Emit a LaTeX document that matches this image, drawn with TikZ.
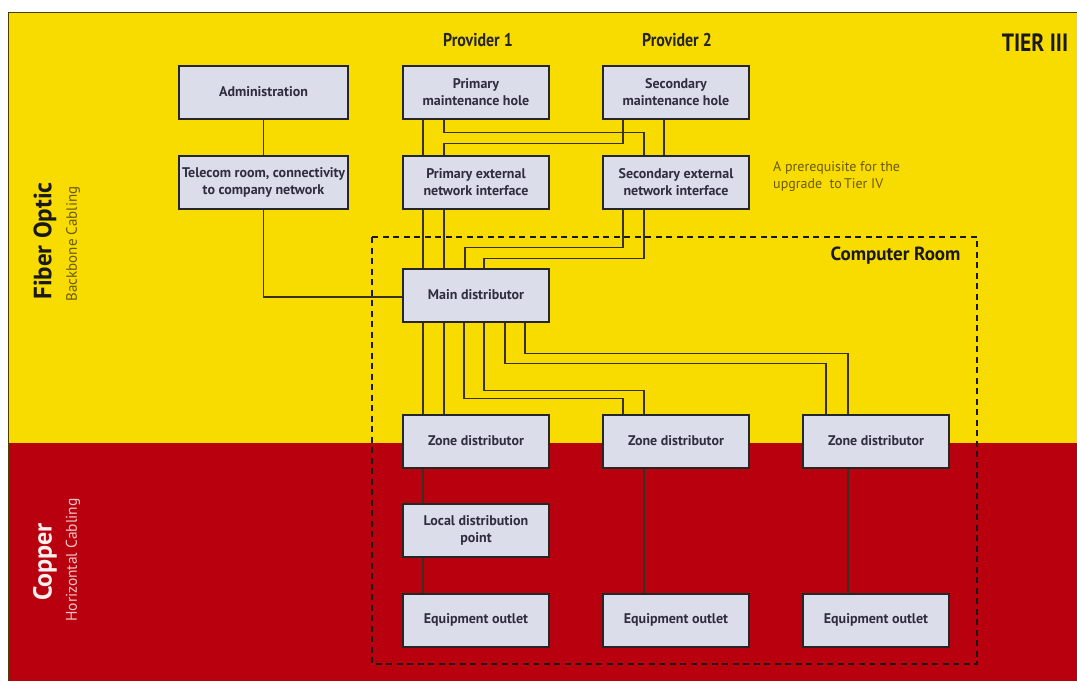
\documentclass[tikz,border=0pt]{standalone}
\usepackage{fontspec}
\setmainfont{PT Sans}
\newfontfamily\condfont[FakeStretch=0.86]{PT Sans}
\usetikzlibrary{calc}
\definecolor{tieryellow}{HTML}{F8DC00}
\definecolor{tierred}{HTML}{B8000E}
\definecolor{boxfill}{HTML}{DCDDEB}
\definecolor{boxtext}{HTML}{2E2E3E}
\definecolor{wire}{HTML}{3A3020}
\definecolor{olive}{HTML}{6A5A08}
\definecolor{pinklabel}{HTML}{F4C6C6}
\tikzset{
  unit/.style={draw=black!85, line width=2pt, fill=boxfill, text=boxtext,
    font=\bfseries\fontsize{14}{17}\selectfont, align=center,
    minimum width=146pt, minimum height=53pt, inner sep=1pt},
  wideunit/.style={unit, minimum width=169pt},
  cable/.style={draw=wire, line width=1.6pt},
  roomline/.style={draw=black!90, line width=2pt, dash pattern=on 6pt off 4.5pt},
}
\begin{document}
\begin{tikzpicture}[x=1pt, y=-1pt]
\useasboundingbox (0,0) rectangle (1077,681);
% backbone and horizontal cabling zones
\fill[white] (0,0) rectangle (1077,681);
\fill[tieryellow] (8,12) rectangle (1077,443);
\fill[tierred] (8,443) rectangle (1077,681);
\draw[olive!70!black, line width=1pt] (8,681) -- (8,12) -- (1077,12);

% headings
\node[font=\condfont\bfseries\fontsize{18.5}{21}\selectfont, text=black!85] (p1) at (478,40) {Provider 1};
\node[font=\condfont\bfseries\fontsize{18.5}{21}\selectfont, text=black!85] (p2) at (677,40) {Provider 2};
\node[font=\condfont\bfseries\fontsize{25}{28}\selectfont, text=black!90] (tier) at (1035,43) {TIER III};

% side labels
\node[rotate=90, font=\bfseries\fontsize{25}{28}\selectfont, text=black!90] (fo) at (45,241) {Fiber Optic};
\node[rotate=90, font=\fontsize{15}{17}\selectfont, text=olive] (bb) at (73,244) {Backbone Cabling};
\node[rotate=90, font=\bfseries\fontsize{26}{28}\selectfont, text=white!94!red] (cu) at (45,562) {Copper};
\node[rotate=90, font=\fontsize{15.5}{17}\selectfont, text=pinklabel] (hc) at (73,560) {Horizontal Cabling};

% note next to the secondary interface
\node[anchor=west, align=left, font=\fontsize{14}{17}\selectfont, text=olive, inner sep=0pt] (note) at (773,176.5)
  {A prerequisite for the\\upgrade\ \ to\,Tier IV};

% computer room boundary
\draw[roomline] (372,237) rectangle (977,664);
\node[anchor=east, font=\bfseries\fontsize{19}{21}\selectfont, text=black!90] (room) at (964,256) {Computer Room};

% building blocks
\node[wideunit] (admin) at (263.5,92) {Administration};
\node[wideunit] (telecom) at (263.5,182) {Telecom room, connectivity\\to company network};
\node[unit] (pmh) at (476,92) {Primary\\maintenance hole};
\node[unit] (smh) at (676,92) {Secondary\\maintenance hole};
\node[unit] (pext) at (476,182) {Primary external\\network interface};
\node[unit] (sext) at (676,182) {Secondary external\\network interface};
\node[unit] (main) at (476,295) {Main distributor};
\node[unit] (z1) at (476,441) {Zone distributor};
\node[unit] (z2) at (676,441) {Zone distributor};
\node[unit] (z3) at (876,441) {Zone distributor};
\node[unit] (ldp) at (476,530) {Local distribution\\point};
\node[unit] (eo1) at (476,620) {Equipment outlet};
\node[unit] (eo2) at (676,620) {Equipment outlet};
\node[unit] (eo3) at (876,620) {Equipment outlet};

% administration side
\draw[cable] (admin.south) -- (telecom.north);
\draw[cable] (telecom.south) |- ([yshift=-2pt]main.west);

% maintenance holes to external interfaces
\draw[cable] ([xshift=-53pt]pmh.south) -- ([xshift=-53pt]pext.north);
\draw[cable] ([xshift=-32pt]pmh.south) -- ++(0,13) -| ([xshift=-32pt]sext.north);
\draw[cable] ([xshift=-53pt]smh.south) -- ++(0,24) -| ([xshift=-32pt]pext.north);
\draw[cable] ([xshift=-12pt]smh.south) -- ([xshift=-12pt]sext.north);

% external interfaces to main distributor
\draw[cable] ([xshift=-53pt]pext.south) -- ([xshift=-53pt]main.north);
\draw[cable] ([xshift=-32pt]pext.south) -- ([xshift=-32pt]main.north);
\draw[cable] ([xshift=-53pt]sext.south) -- ++(0,38) -| ([xshift=-11pt]main.north);
\draw[cable] ([xshift=-32pt]sext.south) -- ++(0,49) -| ([xshift=8pt]main.north);

% main distributor to zone distributors
\draw[cable] ([xshift=-53pt]main.south) -- ([xshift=-53pt]z1.north);
\draw[cable] ([xshift=-32pt]main.south) -- ([xshift=-32pt]z1.north);
\draw[cable] ([xshift=-12pt]main.south) -- ++(0,76) -| ([xshift=-53pt]z2.north);
\draw[cable] ([xshift=8pt]main.south) -- ++(0,68) -| ([xshift=-32pt]z2.north);
\draw[cable] ([xshift=29pt]main.south) -- ++(0,41) -| ([xshift=-50pt]z3.north);
\draw[cable] ([xshift=49pt]main.south) -- ++(0,31) -| ([xshift=-28pt]z3.north);

% horizontal cabling
\draw[cable] ([xshift=-53pt]z1.south) -- ([xshift=-53pt]ldp.north);
\draw[cable] ([xshift=-53pt]ldp.south) -- ([xshift=-53pt]eo1.north);
\draw[cable] ([xshift=-32pt]z2.south) -- ([xshift=-32pt]eo2.north);
\draw[cable] ([xshift=-28pt]z3.south) -- ([xshift=-28pt]eo3.north);
\end{tikzpicture}
\end{document}
